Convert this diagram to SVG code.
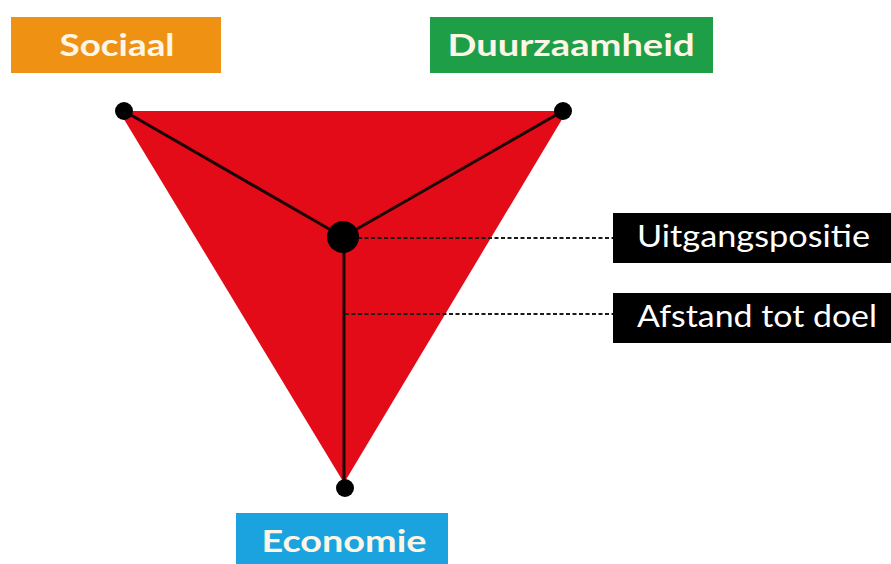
<svg xmlns="http://www.w3.org/2000/svg" width="891" height="564" viewBox="0 0 891 564">
<style>
.lbl{font-family:Lato,"Open Sans","Liberation Sans",sans-serif;font-weight:bold;font-size:31px;fill:#fdf6e6;text-anchor:middle}
.tag{font-family:Lato,"Open Sans","Liberation Sans",sans-serif;font-size:30px;fill:#ffffff}
.edge{stroke:#1a0505;stroke-width:3;fill:none}
.dash{stroke:#1a1a1a;stroke-width:2;stroke-dasharray:4 2.5;fill:none}
</style>
<rect width="891" height="564" fill="#ffffff"/>
<g id="triangle">
<polygon points="119,111 567,111 344,483" fill="#e30b17"/>
</g>
<g id="connectors">
<line class="edge" x1="124" y1="111" x2="343" y2="237"/>
<line class="edge" x1="563" y1="111" x2="343" y2="237"/>
<line class="edge" x1="344" y1="237" x2="344" y2="488"/>
<line class="dash" x1="358" y1="238" x2="613" y2="238"/>
<line class="dash" x1="345" y1="314" x2="613" y2="314"/>
</g>
<g id="dots">
<circle cx="124" cy="111" r="9" fill="#000"/>
<circle cx="563" cy="111" r="9" fill="#000"/>
<circle cx="343" cy="237" r="16" fill="#000"/>
<circle cx="345" cy="488" r="9" fill="#000"/>
</g>
<g id="sociaal">
<rect x="11" y="17" width="210" height="56" fill="#ef9214"/>
<text class="lbl" x="117" y="56" textLength="115" lengthAdjust="spacingAndGlyphs">Sociaal</text>
</g>
<g id="duurzaamheid">
<rect x="430" y="17" width="283" height="56" fill="#1f9e48"/>
<text class="lbl" x="571" y="56" textLength="247" lengthAdjust="spacingAndGlyphs">Duurzaamheid</text>
</g>
<g id="economie">
<rect x="236" y="513" width="212" height="56" fill="#1ba3e0"/>
<text class="lbl" x="344" y="552" textLength="165" lengthAdjust="spacingAndGlyphs">Economie</text>
</g>
<g id="uitgangspositie">
<rect x="613" y="213" width="278" height="50" fill="#000"/>
<text class="tag" x="637" y="247" textLength="233" lengthAdjust="spacingAndGlyphs">Uitgangspositie</text>
</g>
<g id="afstand">
<rect x="613" y="293" width="278" height="50" fill="#000"/>
<text class="tag" x="637" y="327" textLength="240" lengthAdjust="spacingAndGlyphs">Afstand tot doel</text>
</g>
</svg>
